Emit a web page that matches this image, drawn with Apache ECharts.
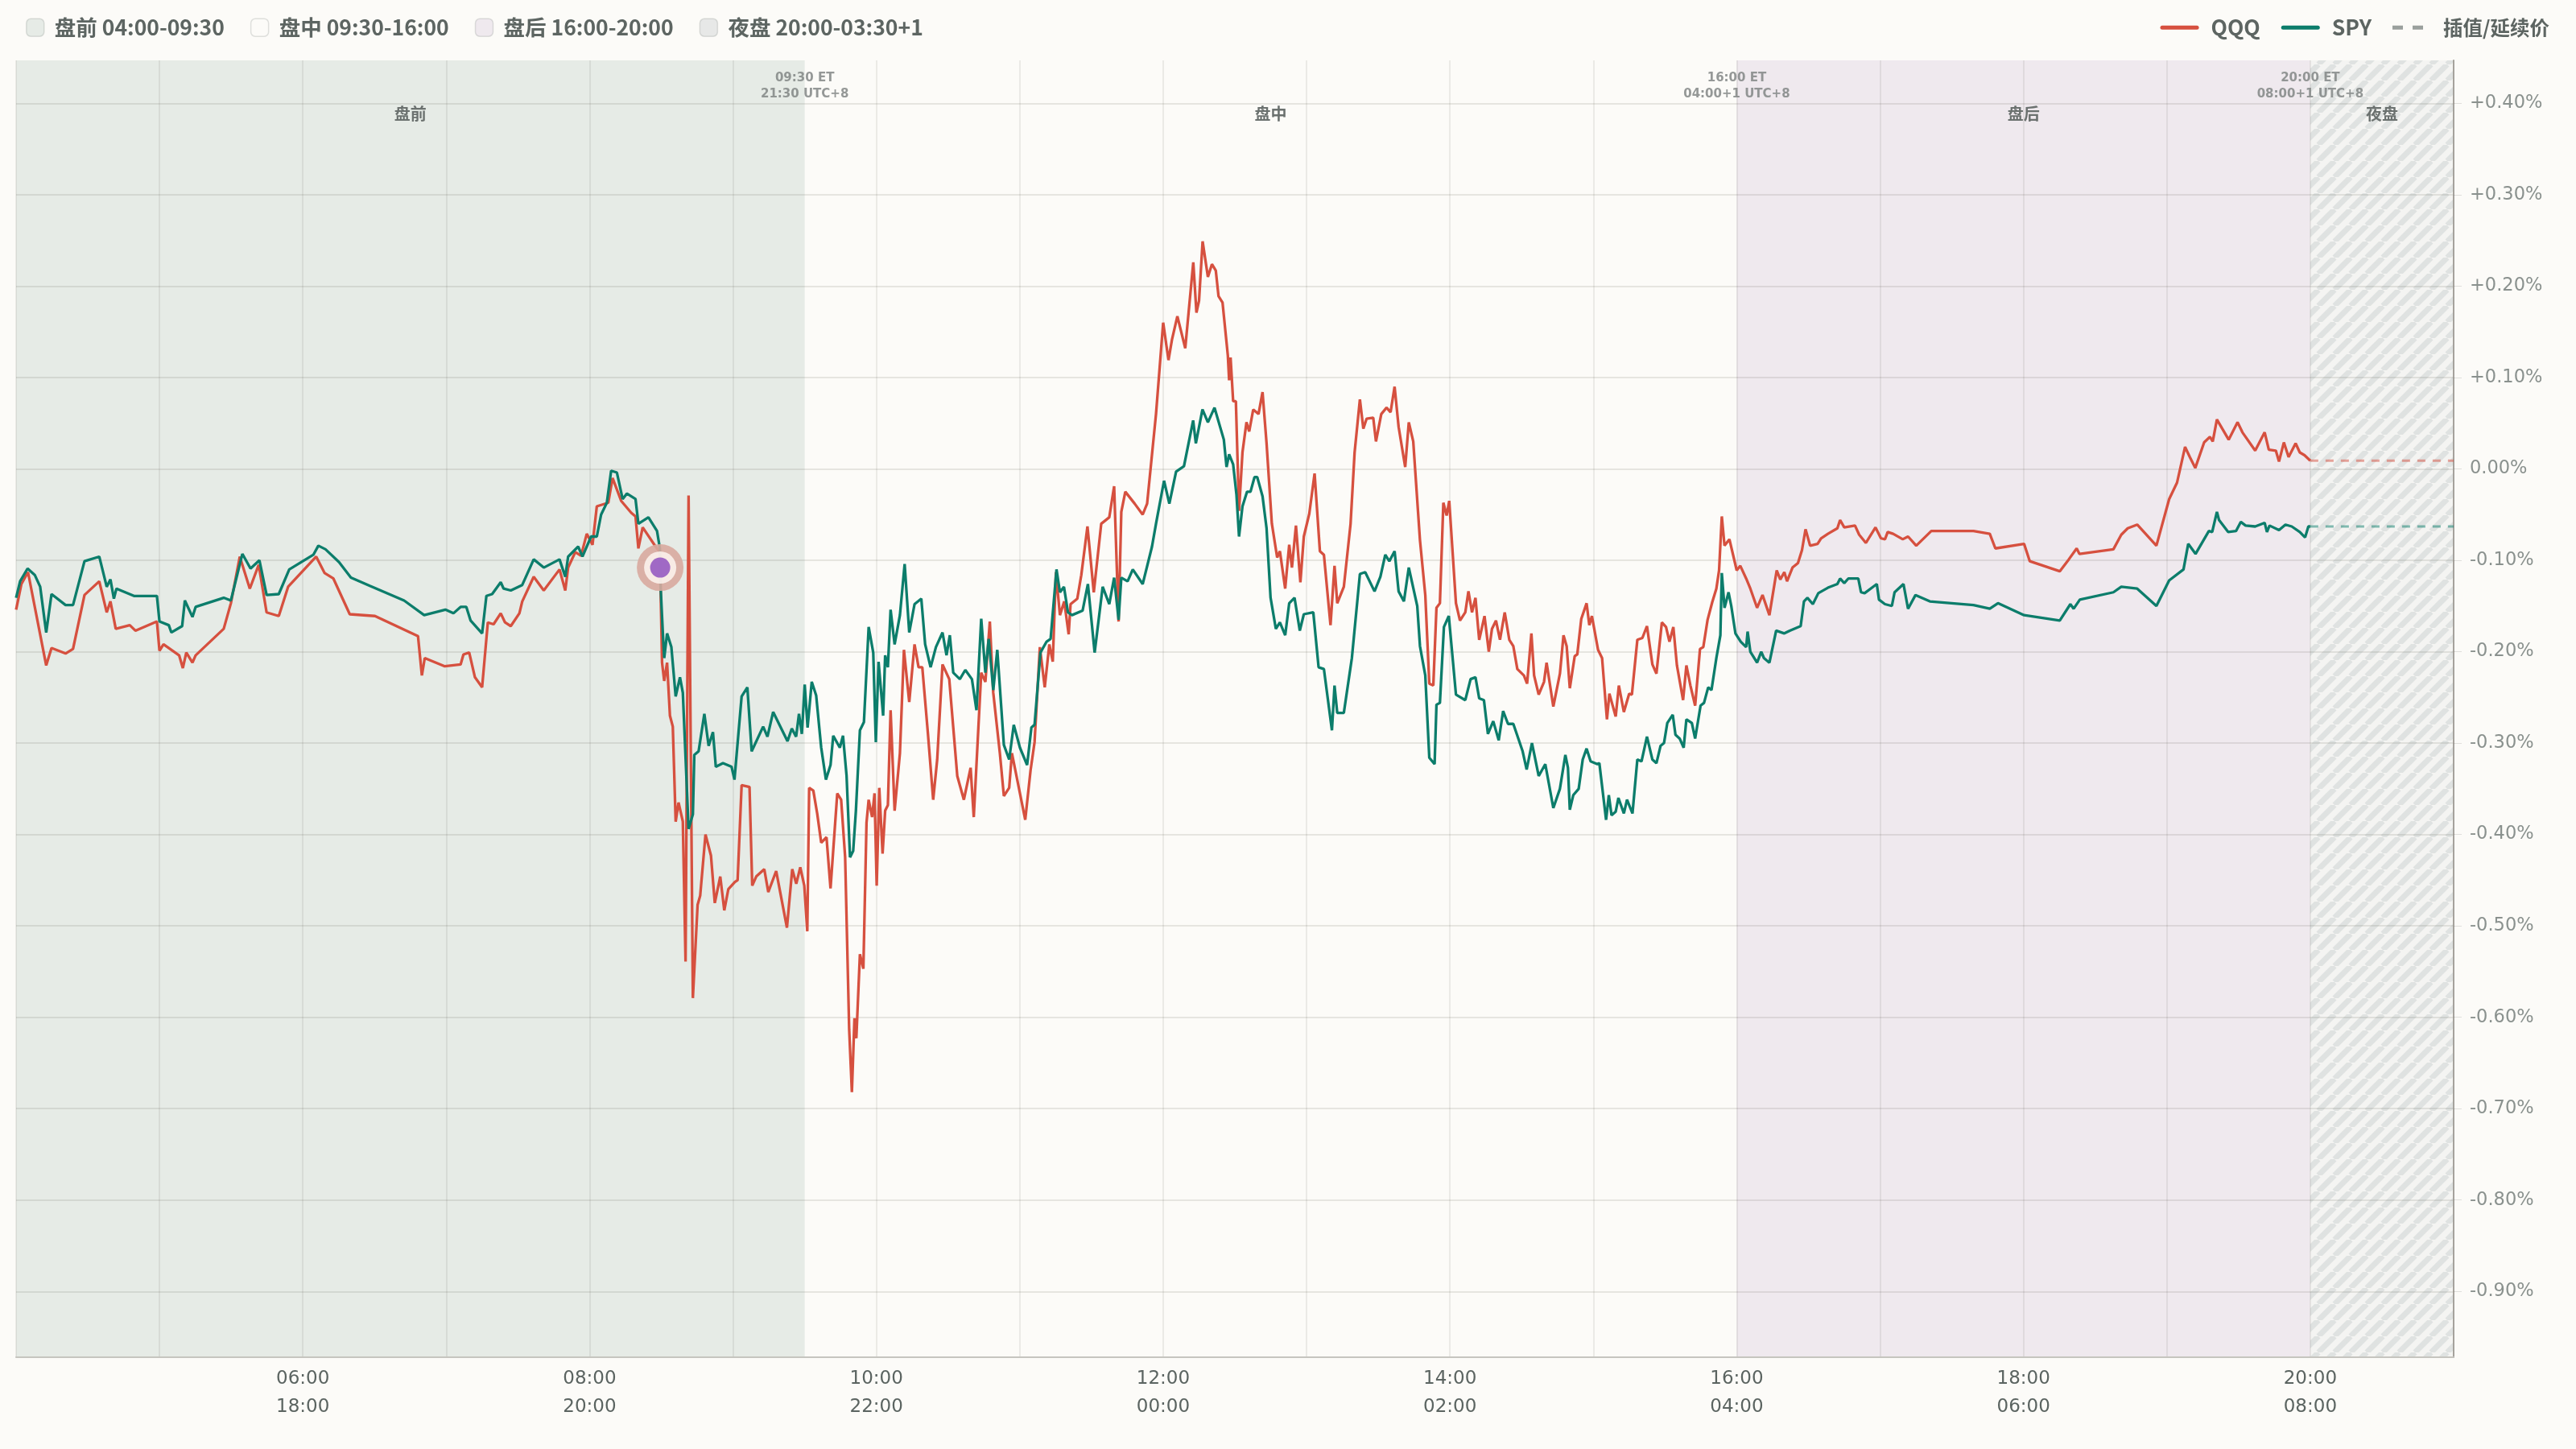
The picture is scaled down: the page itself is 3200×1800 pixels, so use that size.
<!DOCTYPE html>
<html><head><meta charset="utf-8">
<script src="https://cdn.jsdelivr.net/npm/echarts@6/dist/echarts.min.js"></script>
<style>html,body{margin:0;padding:0;background:#fcfbf8;}#chart{width:3200px;height:1800px;}</style>
</head><body><div id="chart"></div>
<script>
// ---- data: [ET hour (decimal), % change] ----
const qqqPre = [[4.000,-0.154],[4.037,-0.126],[4.083,-0.113],[4.210,-0.215],[4.247,-0.196],[4.345,-0.202],[4.397,-0.197],[4.477,-0.138],[4.580,-0.123],[4.632,-0.157],[4.658,-0.145],[4.695,-0.175],[4.793,-0.171],[4.832,-0.177],[4.982,-0.167],[5.000,-0.199],[5.028,-0.192],[5.137,-0.204],[5.163,-0.218],[5.187,-0.201],[5.230,-0.212],[5.252,-0.204],[5.448,-0.175],[5.498,-0.147],[5.560,-0.096],[5.630,-0.131],[5.692,-0.105],[5.747,-0.157],[5.832,-0.161],[5.897,-0.129],[6.093,-0.096],[6.152,-0.114],[6.213,-0.120],[6.327,-0.159],[6.503,-0.161],[6.803,-0.183],[6.830,-0.226],[6.850,-0.207],[6.990,-0.216],[7.100,-0.214],[7.120,-0.203],[7.160,-0.201],[7.200,-0.228],[7.250,-0.239],[7.290,-0.168],[7.330,-0.170],[7.380,-0.158],[7.410,-0.168],[7.450,-0.172],[7.510,-0.158],[7.530,-0.145],[7.610,-0.118],[7.680,-0.133],[7.790,-0.110],[7.830,-0.133],[7.850,-0.108],[7.900,-0.091],[7.940,-0.095],[7.980,-0.071],[8.020,-0.083],[8.050,-0.041],[8.130,-0.037],[8.160,-0.010],[8.220,-0.035],[8.290,-0.048],[8.320,-0.052],[8.340,-0.087],[8.370,-0.064],[8.460,-0.085],[8.490,-0.091],[8.505,-0.212],[8.520,-0.232],[8.540,-0.212],[8.560,-0.270],[8.580,-0.282],[8.600,-0.386],[8.620,-0.365],[8.650,-0.386],[8.669,-0.539],[8.690,-0.029],[8.720,-0.579],[8.753,-0.477],[8.771,-0.467],[8.808,-0.400],[8.846,-0.423],[8.873,-0.475],[8.911,-0.446],[8.939,-0.483],[8.967,-0.460],[9.013,-0.452],[9.032,-0.450],[9.060,-0.346],[9.115,-0.348],[9.134,-0.456],[9.162,-0.446],[9.218,-0.438],[9.246,-0.463],[9.301,-0.440],[9.376,-0.502],[9.413,-0.438],[9.441,-0.454],[9.469,-0.436],[9.497,-0.456]];
const qqqReg = [[9.518,-0.506],[9.531,-0.349],[9.560,-0.352],[9.587,-0.377],[9.615,-0.409],[9.652,-0.403],[9.680,-0.459],[9.727,-0.355],[9.754,-0.362],[9.782,-0.425],[9.810,-0.613],[9.829,-0.682],[9.847,-0.601],[9.860,-0.623],[9.885,-0.531],[9.909,-0.547],[9.931,-0.387],[9.946,-0.362],[9.970,-0.381],[9.987,-0.355],[10.002,-0.456],[10.020,-0.349],[10.043,-0.421],[10.061,-0.374],[10.080,-0.368],[10.099,-0.264],[10.127,-0.374],[10.164,-0.311],[10.192,-0.198],[10.229,-0.255],[10.266,-0.192],[10.294,-0.217],[10.320,-0.217],[10.359,-0.289],[10.396,-0.362],[10.424,-0.318],[10.461,-0.214],[10.508,-0.230],[10.564,-0.336],[10.610,-0.362],[10.657,-0.327],[10.679,-0.381],[10.731,-0.223],[10.760,-0.233],[10.791,-0.167],[10.815,-0.245],[10.861,-0.311],[10.889,-0.358],[10.926,-0.349],[10.945,-0.311],[10.973,-0.333],[11.038,-0.384],[11.075,-0.330],[11.103,-0.299],[11.140,-0.195],[11.174,-0.239],[11.206,-0.192],[11.230,-0.211],[11.252,-0.113],[11.280,-0.160],[11.310,-0.145],[11.341,-0.181],[11.354,-0.148],[11.401,-0.142],[11.429,-0.116],[11.472,-0.063],[11.516,-0.135],[11.568,-0.060],[11.624,-0.053],[11.658,-0.019],[11.689,-0.167],[11.708,-0.047],[11.736,-0.025],[11.801,-0.038],[11.857,-0.050],[11.888,-0.038],[11.950,0.060],[12.000,0.160],[12.037,0.119],[12.062,0.142],[12.099,0.167],[12.154,0.132],[12.210,0.226],[12.232,0.171],[12.250,0.184],[12.275,0.249],[12.312,0.210],[12.340,0.224],[12.367,0.217],[12.386,0.189],[12.414,0.182],[12.451,0.124],[12.460,0.097],[12.470,0.122],[12.488,0.074],[12.507,0.074],[12.529,-0.046],[12.553,0.018],[12.581,0.051],[12.600,0.041],[12.628,0.065],[12.665,0.060],[12.693,0.084],[12.721,0.028],[12.758,-0.060],[12.795,-0.097],[12.814,-0.090],[12.851,-0.131],[12.879,-0.083],[12.898,-0.108],[12.926,-0.062],[12.957,-0.124],[12.981,-0.074],[13.019,-0.049],[13.056,-0.005],[13.093,-0.090],[13.121,-0.094],[13.167,-0.171],[13.195,-0.106],[13.214,-0.147],[13.260,-0.129],[13.307,-0.060],[13.335,0.018],[13.372,0.076],[13.396,0.044],[13.419,0.055],[13.465,0.056],[13.484,0.030],[13.521,0.060],[13.558,0.067],[13.586,0.062],[13.614,0.090],[13.642,0.046],[13.688,0.002],[13.713,0.051],[13.744,0.030],[13.791,-0.078],[13.828,-0.138],[13.856,-0.235],[13.884,-0.237],[13.906,-0.152],[13.930,-0.147],[13.954,-0.037],[13.977,-0.051],[13.995,-0.035],[14.042,-0.147],[14.070,-0.166],[14.107,-0.157],[14.129,-0.134],[14.154,-0.157],[14.178,-0.141],[14.204,-0.187],[14.241,-0.161],[14.271,-0.200],[14.293,-0.175],[14.321,-0.166],[14.349,-0.187],[14.382,-0.157],[14.414,-0.187],[14.442,-0.194],[14.470,-0.219],[14.516,-0.226],[14.538,-0.235],[14.568,-0.180],[14.587,-0.226],[14.619,-0.247],[14.656,-0.233],[14.674,-0.212],[14.721,-0.260],[14.767,-0.224],[14.792,-0.182],[14.814,-0.194],[14.836,-0.240],[14.870,-0.205],[14.888,-0.203],[14.916,-0.164],[14.953,-0.147],[14.972,-0.171],[14.990,-0.161],[15.033,-0.198],[15.061,-0.207],[15.095,-0.274],[15.112,-0.246],[15.156,-0.271],[15.178,-0.237],[15.213,-0.266],[15.250,-0.246],[15.269,-0.247],[15.307,-0.187],[15.342,-0.185],[15.374,-0.172],[15.412,-0.214],[15.440,-0.224],[15.478,-0.168],[15.507,-0.173],[15.531,-0.189],[15.558,-0.173],[15.583,-0.215],[15.626,-0.253],[15.649,-0.215],[15.677,-0.237],[15.710,-0.259],[15.744,-0.197],[15.767,-0.195],[15.797,-0.165],[15.829,-0.146],[15.858,-0.131],[15.877,-0.111],[15.896,-0.052],[15.915,-0.084],[15.949,-0.077],[16.000,-0.111]];
const qqqPost = [[16.025,-0.106],[16.066,-0.120],[16.095,-0.131],[16.142,-0.152],[16.180,-0.138],[16.228,-0.160],[16.279,-0.111],[16.304,-0.121],[16.332,-0.113],[16.351,-0.123],[16.389,-0.108],[16.427,-0.103],[16.455,-0.089],[16.480,-0.066],[16.512,-0.084],[16.564,-0.082],[16.588,-0.076],[16.636,-0.071],[16.702,-0.065],[16.721,-0.056],[16.750,-0.064],[16.825,-0.062],[16.854,-0.072],[16.901,-0.081],[16.968,-0.064],[17.006,-0.076],[17.034,-0.077],[17.053,-0.069],[17.091,-0.071],[17.158,-0.077],[17.195,-0.074],[17.252,-0.084],[17.357,-0.068],[17.651,-0.068],[17.765,-0.071],[17.804,-0.087],[18.004,-0.082],[18.044,-0.101],[18.253,-0.112],[18.316,-0.099],[18.371,-0.087],[18.390,-0.093],[18.627,-0.088],[18.682,-0.072],[18.727,-0.065],[18.793,-0.061],[18.927,-0.084],[19.016,-0.033],[19.071,-0.015],[19.127,0.024],[19.160,0.013],[19.198,0.001],[19.260,0.029],[19.300,0.035],[19.320,0.030],[19.349,0.054],[19.431,0.032],[19.493,0.051],[19.527,0.040],[19.616,0.020],[19.682,0.040],[19.711,0.021],[19.760,0.020],[19.782,0.008],[19.816,0.029],[19.849,0.013],[19.898,0.028],[19.927,0.018],[19.960,0.015],[20.000,0.009]];
const spyPre = [[4.000,-0.141],[4.028,-0.123],[4.080,-0.109],[4.130,-0.116],[4.168,-0.129],[4.210,-0.179],[4.247,-0.137],[4.345,-0.149],[4.397,-0.149],[4.477,-0.101],[4.580,-0.096],[4.632,-0.129],[4.658,-0.121],[4.682,-0.142],[4.700,-0.131],[4.822,-0.139],[4.982,-0.139],[5.000,-0.167],[5.065,-0.171],[5.083,-0.179],[5.158,-0.172],[5.177,-0.144],[5.230,-0.162],[5.252,-0.151],[5.448,-0.141],[5.498,-0.144],[5.578,-0.093],[5.635,-0.109],[5.697,-0.100],[5.747,-0.138],[5.832,-0.137],[5.905,-0.110],[6.073,-0.094],[6.108,-0.084],[6.158,-0.088],[6.252,-0.102],[6.335,-0.119],[6.467,-0.128],[6.706,-0.144],[6.846,-0.160],[6.994,-0.154],[7.050,-0.158],[7.100,-0.151],[7.140,-0.151],[7.170,-0.166],[7.250,-0.180],[7.280,-0.139],[7.320,-0.137],[7.380,-0.124],[7.400,-0.131],[7.450,-0.133],[7.530,-0.127],[7.610,-0.099],[7.680,-0.108],[7.790,-0.099],[7.830,-0.118],[7.850,-0.096],[7.920,-0.085],[7.950,-0.096],[8.010,-0.074],[8.050,-0.074],[8.080,-0.050],[8.120,-0.037],[8.150,-0.002],[8.190,-0.004],[8.230,-0.033],[8.260,-0.027],[8.320,-0.033],[8.340,-0.060],[8.410,-0.053],[8.470,-0.068],[8.490,-0.087],[8.495,-0.129],[8.510,-0.178],[8.520,-0.207],[8.540,-0.180],[8.570,-0.195],[8.600,-0.249],[8.630,-0.228],[8.650,-0.245],[8.690,-0.394],[8.720,-0.378],[8.730,-0.313],[8.760,-0.309],[8.800,-0.268],[8.830,-0.303],[8.860,-0.288],[8.880,-0.326],[8.930,-0.322],[8.990,-0.326],[9.010,-0.340],[9.060,-0.249],[9.100,-0.239],[9.130,-0.309],[9.210,-0.282],[9.240,-0.293],[9.280,-0.266],[9.380,-0.298],[9.410,-0.284],[9.440,-0.293],[9.460,-0.268],[9.480,-0.290]];
const spyReg = [[9.500,-0.236],[9.520,-0.283],[9.549,-0.233],[9.580,-0.248],[9.615,-0.305],[9.648,-0.340],[9.680,-0.324],[9.699,-0.292],[9.745,-0.305],[9.767,-0.292],[9.792,-0.336],[9.816,-0.425],[9.838,-0.418],[9.857,-0.374],[9.885,-0.286],[9.913,-0.277],[9.946,-0.173],[9.978,-0.201],[9.996,-0.299],[10.015,-0.211],[10.047,-0.270],[10.061,-0.204],[10.080,-0.217],[10.099,-0.154],[10.127,-0.192],[10.164,-0.160],[10.197,-0.104],[10.229,-0.179],[10.266,-0.148],[10.313,-0.142],[10.340,-0.192],[10.378,-0.217],[10.415,-0.195],[10.461,-0.179],[10.489,-0.204],[10.512,-0.182],[10.536,-0.223],[10.582,-0.230],[10.620,-0.220],[10.666,-0.230],[10.698,-0.264],[10.731,-0.164],[10.760,-0.223],[10.783,-0.186],[10.815,-0.242],[10.843,-0.198],[10.889,-0.302],[10.926,-0.318],[10.958,-0.280],[11.001,-0.305],[11.051,-0.324],[11.081,-0.283],[11.103,-0.280],[11.144,-0.201],[11.187,-0.189],[11.215,-0.186],[11.256,-0.110],[11.280,-0.135],[11.308,-0.129],[11.336,-0.157],[11.364,-0.160],[11.438,-0.155],[11.475,-0.126],[11.522,-0.201],[11.578,-0.129],[11.624,-0.148],[11.658,-0.119],[11.689,-0.165],[11.708,-0.119],[11.752,-0.123],[11.788,-0.110],[11.857,-0.126],[11.922,-0.085],[11.950,-0.060],[12.006,-0.013],[12.043,-0.038],[12.090,-0.003],[12.145,0.003],[12.209,0.053],[12.228,0.028],[12.274,0.065],[12.312,0.051],[12.358,0.067],[12.423,0.032],[12.442,0.002],[12.460,0.016],[12.488,0.005],[12.511,-0.028],[12.529,-0.074],[12.553,-0.041],[12.585,-0.025],[12.609,-0.025],[12.637,-0.009],[12.656,-0.009],[12.693,-0.030],[12.721,-0.065],[12.749,-0.141],[12.786,-0.175],[12.814,-0.168],[12.851,-0.182],[12.879,-0.147],[12.916,-0.141],[12.953,-0.177],[12.981,-0.159],[13.047,-0.157],[13.084,-0.217],[13.121,-0.219],[13.177,-0.286],[13.195,-0.237],[13.214,-0.267],[13.260,-0.267],[13.316,-0.207],[13.372,-0.115],[13.409,-0.113],[13.474,-0.134],[13.515,-0.118],[13.549,-0.094],[13.577,-0.101],[13.614,-0.090],[13.642,-0.134],[13.679,-0.145],[13.713,-0.108],[13.772,-0.150],[13.791,-0.194],[13.828,-0.226],[13.856,-0.316],[13.893,-0.323],[13.906,-0.258],[13.930,-0.256],[13.958,-0.173],[13.992,-0.161],[14.042,-0.247],[14.107,-0.253],[14.144,-0.230],[14.178,-0.228],[14.204,-0.251],[14.237,-0.253],[14.265,-0.290],[14.302,-0.276],[14.340,-0.297],[14.371,-0.265],[14.405,-0.279],[14.442,-0.279],[14.507,-0.309],[14.535,-0.329],[14.572,-0.300],[14.619,-0.336],[14.665,-0.323],[14.721,-0.371],[14.767,-0.350],[14.805,-0.313],[14.823,-0.327],[14.836,-0.373],[14.860,-0.357],[14.898,-0.350],[14.926,-0.318],[14.953,-0.306],[14.981,-0.320],[15.028,-0.323],[15.042,-0.322],[15.089,-0.384],[15.108,-0.357],[15.127,-0.379],[15.156,-0.375],[15.175,-0.360],[15.213,-0.377],[15.235,-0.362],[15.273,-0.377],[15.307,-0.318],[15.336,-0.320],[15.374,-0.293],[15.412,-0.318],[15.440,-0.322],[15.469,-0.303],[15.493,-0.300],[15.516,-0.278],[15.554,-0.269],[15.573,-0.291],[15.602,-0.295],[15.630,-0.305],[15.649,-0.274],[15.687,-0.278],[15.710,-0.295],[15.748,-0.259],[15.772,-0.256],[15.801,-0.239],[15.824,-0.242],[15.858,-0.207],[15.886,-0.182],[15.896,-0.114],[15.915,-0.152],[15.943,-0.135],[15.962,-0.150],[15.991,-0.180]];
const spyPost = [[16.028,-0.189],[16.066,-0.195],[16.076,-0.178],[16.095,-0.200],[16.142,-0.212],[16.171,-0.200],[16.190,-0.207],[16.228,-0.212],[16.275,-0.177],[16.332,-0.180],[16.370,-0.177],[16.446,-0.172],[16.469,-0.145],[16.493,-0.141],[16.531,-0.148],[16.569,-0.136],[16.636,-0.130],[16.702,-0.126],[16.721,-0.120],[16.750,-0.125],[16.778,-0.120],[16.848,-0.120],[16.867,-0.135],[16.892,-0.136],[16.977,-0.126],[16.992,-0.143],[17.034,-0.148],[17.082,-0.150],[17.101,-0.135],[17.163,-0.126],[17.195,-0.153],[17.247,-0.138],[17.347,-0.145],[17.651,-0.149],[17.765,-0.153],[17.822,-0.147],[18.004,-0.160],[18.253,-0.166],[18.327,-0.148],[18.350,-0.153],[18.393,-0.143],[18.627,-0.135],[18.682,-0.129],[18.793,-0.131],[18.927,-0.150],[19.016,-0.122],[19.116,-0.110],[19.149,-0.082],[19.200,-0.093],[19.293,-0.068],[19.316,-0.069],[19.349,-0.047],[19.364,-0.056],[19.427,-0.069],[19.482,-0.068],[19.516,-0.058],[19.549,-0.062],[19.616,-0.063],[19.682,-0.059],[19.698,-0.069],[19.716,-0.062],[19.782,-0.067],[19.827,-0.061],[19.871,-0.063],[19.927,-0.069],[19.964,-0.075],[19.987,-0.063],[20.000,-0.063]];
const eventPoint = [8.492, -0.108];
const sessionNames = ['盘前', '盘中', '盘后', '夜盘'];
const sessionLegend = ['盘前 04:00-09:30', '盘中 09:30-16:00', '盘后 16:00-20:00', '夜盘 20:00-03:30+1'];
const sessionBounds = [[4, 9.5], [9.5, 16], [16, 20], [20, 21]];
const boundaryLabels = [[9.5, '09:30 ET', '21:30 UTC+8'], [16, '16:00 ET', '04:00+1 UTC+8'], [20, '20:00 ET', '08:00+1 UTC+8']];
const seriesLegend = ['QQQ', 'SPY', '插值/延续价'];
const xRange = [4, 21];
const yRange = [-0.972, 0.447];

// ---- styles ----
const C = { qqq: '#d6503f', spy: '#0c7d6b', gray: '#9aa09d', bg: '#fcfbf8' };
const sessionFill = ['#e6ebe6', 'rgba(0,0,0,0)', '#efe9ee', null];
const sessionIcon = ['#e6ebe6', '#fcfbf8', '#efe9ee', '#e7e8e7'];

function hatch() {
  const s = 20, cv = document.createElement('canvas');
  cv.width = s; cv.height = s;
  const g = cv.getContext('2d');
  g.fillStyle = '#f4f4f2'; g.fillRect(0, 0, s, s);
  g.strokeStyle = '#dfe2e1'; g.lineWidth = 7;
  for (let k = -1; k <= 1; k++) {
    g.beginPath(); g.moveTo(k * s, s); g.lineTo(k * s + s, 0); g.stroke();
  }
  return cv;
}
const pad = n => String(n).padStart(2, '0');
const FONT = 'DejaVu Sans';
const CJK = '"Noto Sans CJK SC", "DejaVu Sans", sans-serif';
const TXT = '#5d6562';

const qqq = qqqPre.concat(qqqReg, qqqPost);
const spy = spyPre.concat(spyReg, spyPost);
const qLast = qqq[qqq.length - 1], sLast = spy[spy.length - 1];

const sessionSeries = sessionNames.map((nm, i) => ({
  name: sessionLegend[i], type: 'line', data: [], z: 0, silent: true,
  itemStyle: { color: sessionIcon[i] },
  markArea: {
    silent: true, z: 0,
    itemStyle: { color: sessionFill[i] === null ? { image: hatch(), repeat: 'repeat' } : sessionFill[i] },
    label: { show: true, position: 'insideTop', distance: 56, color: '#6b716f', fontFamily: CJK, fontWeight: 'bold', fontSize: 20 },
    data: [[{ xAxis: sessionBounds[i][0], name: nm }, { xAxis: sessionBounds[i][1] }]]
  }
}));

const lineIcon = 'path://M2.5,0 H45.5 A2.5,2.5 0 0 1 45.5,5 H2.5 A2.5,2.5 0 0 1 2.5,0 Z';
const dashIcon = 'path://M0,0 H13 V5 H0 Z M25,0 H38 V5 H25 Z M47.9,0 H48 V0.1 H47.9 Z';

const option = {
  backgroundColor: C.bg,
  animation: false,
  grid: { left: 20, right: 152, top: 75, bottom: 114 },
  legend: [
    { data: sessionLegend, left: 27, top: 16, icon: 'roundRect', itemWidth: 22, itemHeight: 22, itemGap: 32,
      itemStyle: { borderColor: 'rgba(90,100,95,0.18)', borderWidth: 1.5 },
      textStyle: { fontFamily: CJK, fontWeight: 'bold', fontSize: 26.5, color: TXT, padding: [0, 0, 0, 8] }, selectedMode: false },
    { data: seriesLegend.map((n, i) => ({ name: n, icon: i < 2 ? lineIcon : dashIcon })),
      right: 28, top: 16, itemWidth: 48, itemHeight: 5, itemGap: 26,
      formatter: n => n === seriesLegend[2] ? '{s|' + n + '}' : '{b|' + n + '}',
      textStyle: { fontFamily: CJK, fontWeight: 'bold', fontSize: 26.5, color: TXT, padding: [0, 0, 0, 10],
        rich: { b: { fontFamily: CJK, fontWeight: 'bold', fontSize: 26.5, color: TXT },
                s: { fontFamily: CJK, fontWeight: 'bold', fontSize: 24.5, color: TXT } } },
      selectedMode: false }
  ],
  xAxis: {
    type: 'value', min: xRange[0], max: xRange[1], interval: 1, z: 1,
    axisLine: { show: true, onZero: false, lineStyle: { color: '#c6c5bf', width: 2 } },
    axisTick: { show: false },
    splitLine: { show: true, lineStyle: { color: 'rgba(70,70,60,0.09)', width: 2 } },
    axisLabel: { margin: 10, lineHeight: 35, fontSize: 23, fontFamily: FONT, color: '#5b6461',
      formatter: v => (v % 2 === 0 && v > xRange[0] && v < xRange[1]) ? pad(v) + ':00\n' + pad((v + 12) % 24) + ':00' : '' }
  },
  yAxis: {
    type: 'value', position: 'right', min: yRange[0], max: yRange[1], splitNumber: 14, minInterval: 0.1, maxInterval: 0.1, z: 1,
    axisLine: { show: true, lineStyle: { color: '#a5a29c', width: 2 } },
    axisTick: { show: true, length: 10, lineStyle: { color: 'rgba(70,70,60,0.15)' } },
    splitLine: { show: true, showMinLine: false, showMaxLine: false, lineStyle: { color: 'rgba(70,70,60,0.12)', width: 2 } },
    axisLabel: { margin: 20, fontSize: 22.5, fontFamily: FONT, color: '#8a918e', showMinLabel: false, showMaxLabel: false,
      formatter: v => (v > 0.0001 ? '+' : '') + (Math.abs(v) < 0.0001 ? '0.00' : v.toFixed(2)) + '%' }
  },
  series: sessionSeries.concat([
    { name: 'QQQ', type: 'line', data: qqq, showSymbol: false, symbol: 'none', lineStyle: { color: C.qqq, width: 3.3 }, itemStyle: { color: C.qqq }, z: 2 },
    { name: 'SPY', type: 'line', data: spy, showSymbol: false, symbol: 'none', lineStyle: { color: C.spy, width: 3.3 }, itemStyle: { color: C.spy }, z: 3 },
    { name: '插值/延续价', type: 'line', data: [], symbol: 'none', lineStyle: { color: C.gray, width: 4, type: [12, 10] }, itemStyle: { color: C.gray } },
    { name: 'QQQ延续', type: 'line', data: [qLast, [xRange[1], qLast[1]]], symbol: 'none', lineStyle: { color: C.qqq, width: 2.8, type: [10, 9], opacity: 0.5 }, z: 2 },
    { name: 'SPY延续', type: 'line', data: [sLast, [xRange[1], sLast[1]]], symbol: 'none', lineStyle: { color: C.spy, width: 2.8, type: [10, 9], opacity: 0.5 }, z: 2 },
    { name: 'evtHalo', type: 'scatter', data: [eventPoint], symbolSize: 58, itemStyle: { color: '#d8aa9f', opacity: 0.9 }, z: 5, silent: true },
    { name: 'evtRing', type: 'scatter', data: [eventPoint], symbolSize: 40, itemStyle: { color: '#fffaf5' }, z: 6, silent: true },
    { name: 'evtDot', type: 'scatter', data: [eventPoint], symbolSize: 25, itemStyle: { color: '#8a49bd' }, z: 7, silent: true },
    { name: 'bounds', type: 'scatter', symbolSize: 0, silent: true, z: 4,
      data: boundaryLabels.map(b => [b[0], yRange[1], b[1], b[2]]),
      label: { show: true, position: 'bottom', distance: 12, align: 'center', fontFamily: FONT, fontWeight: 'bold', fontSize: 15, lineHeight: 20, color: '#7b807e',
        formatter: p => p.data[2] + '\n' + p.data[3] } }
  ])
};
const chart = echarts.init(document.getElementById('chart'));
chart.setOption(option);
</script></body></html>
